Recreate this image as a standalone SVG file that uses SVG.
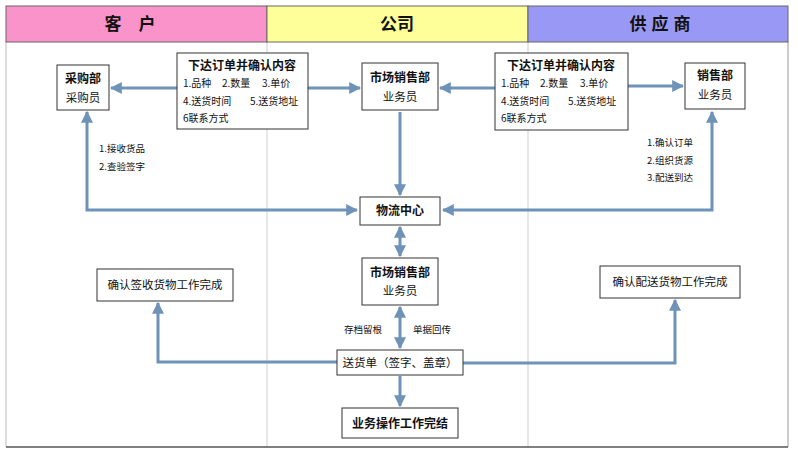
<svg xmlns="http://www.w3.org/2000/svg" width="798" height="454" viewBox="0 0 798 454">
<style>
text{font-family:"Noto Sans CJK SC","Noto Sans CJK JP",sans-serif;fill:#111}
.hd{font-size:17px;font-weight:bold;text-anchor:middle}
.b{fill:#fff;stroke:#333;stroke-width:1}
.t{font-size:12px;font-weight:bold;text-anchor:middle}
.n{font-size:11.5px;text-anchor:middle}
.s{font-size:10px}
.sm{font-size:9.5px}
.c{fill:none;stroke:#6f93b8;stroke-width:3}
.lane{stroke:#cfcfcf;stroke-width:1}
</style>
<defs>
<marker id="a" viewBox="0 0 10 10" refX="9" refY="5" markerWidth="4" markerHeight="4" orient="auto-start-reverse" markerUnits="strokeWidth">
<path d="M0,0 L10,5 L0,10 z" fill="#6f93b8"/>
</marker>
</defs>
<rect x="0" y="0" width="798" height="454" fill="#fff"/>
<g id="lanes">
<line class="lane" x1="267" y1="42" x2="267" y2="447"/>
<line class="lane" x1="528" y1="42" x2="528" y2="447"/>
<line x1="6" y1="42" x2="6" y2="447" stroke="#bbb"/>
<line x1="788" y1="42" x2="788" y2="447" stroke="#999"/>
<line x1="6" y1="447" x2="788" y2="447" stroke="#555" stroke-width="1.5"/>
</g>
<g id="header">
<rect x="6" y="6" width="261" height="36" fill="#fb93cb" stroke="#666"/>
<rect x="267" y="6" width="261" height="36" fill="#ffff99" stroke="#666"/>
<rect x="528" y="6" width="260" height="36" fill="#9999f5" stroke="#666"/>
<text class="hd" x="130" y="30">客<tspan dx="17">户</tspan></text>
<text class="hd" x="397" y="30">公司</text>
<text class="hd" x="660" y="30">供<tspan dx="5">应</tspan><tspan dx="5">商</tspan></text>
</g>
<g id="connectors">
<line class="c" x1="177" y1="88" x2="111" y2="88" marker-end="url(#a)"/>
<line class="c" x1="308" y1="88" x2="360" y2="88" marker-end="url(#a)"/>
<line class="c" x1="495" y1="88" x2="440" y2="88" marker-end="url(#a)"/>
<line class="c" x1="628" y1="86" x2="683" y2="86" marker-end="url(#a)"/>
<line class="c" x1="400" y1="112" x2="400" y2="195" marker-end="url(#a)"/>
<polyline class="c" points="87,112 87,210 357,210" marker-start="url(#a)" marker-end="url(#a)"/>
<polyline class="c" points="712,112 712,210 443,210" marker-start="url(#a)" marker-end="url(#a)"/>
<line class="c" x1="400" y1="227" x2="400" y2="256" marker-start="url(#a)" marker-end="url(#a)"/>
<line class="c" x1="400" y1="307" x2="400" y2="348" marker-start="url(#a)" marker-end="url(#a)"/>
<line class="c" x1="400" y1="376" x2="400" y2="406" marker-end="url(#a)"/>
<polyline class="c" points="337,362 158,362 158,303" marker-end="url(#a)"/>
<polyline class="c" points="463,363 675,363 675,300" marker-end="url(#a)"/>
</g>
<g id="caigou">
<rect class="b" x="57" y="65" width="52" height="45"/>
<text class="t" x="83" y="83">采购部</text>
<text class="n" x="83" y="102">采购员</text>
</g>
<g id="order1">
<rect class="b" x="177" y="53" width="131" height="76"/>
<text class="t" x="242" y="70">下达订单并确认内容</text>
<text class="s" x="183" y="87">1.品种<tspan x="222">2.数量</tspan><tspan x="262">3.单价</tspan></text>
<text class="s" x="183" y="105">4.送货时间<tspan x="250">5.送货地址</tspan></text>
<text class="s" x="183" y="122">6联系方式</text>
</g>
<g id="market1">
<rect class="b" x="362" y="63" width="76" height="47"/>
<text class="t" x="400" y="82">市场销售部</text>
<text class="n" x="400" y="101">业务员</text>
</g>
<g id="order2">
<rect class="b" x="495" y="53" width="133" height="77"/>
<text class="t" x="561" y="70">下达订单并确认内容</text>
<text class="s" x="501" y="87">1.品种<tspan x="540">2.数量</tspan><tspan x="580">3.单价</tspan></text>
<text class="s" x="501" y="105">4.送货时间<tspan x="568">5.送货地址</tspan></text>
<text class="s" x="501" y="122">6联系方式</text>
</g>
<g id="sales">
<rect class="b" x="685" y="63" width="60" height="46"/>
<text class="t" x="715" y="80">销售部</text>
<text class="n" x="715" y="99">业务员</text>
</g>
<g id="notes">
<text class="sm" x="99" y="152">1.接收货品</text>
<text class="sm" x="99" y="170">2.查验签字</text>
<text class="sm" x="647" y="146">1.确认订单</text>
<text class="sm" x="647" y="164">2.组织货源</text>
<text class="sm" x="647" y="181">3.配送到达</text>
<text class="sm" x="344" y="333">存档留根</text>
<text class="sm" x="413" y="333">单据回传</text>
</g>
<g id="logistics">
<rect class="b" x="360" y="197" width="80" height="28"/>
<text class="t" x="400" y="215">物流中心</text>
</g>
<g id="market2">
<rect class="b" x="362" y="258" width="76" height="47"/>
<text class="t" x="400" y="277">市场销售部</text>
<text class="n" x="400" y="295">业务员</text>
</g>
<g id="confirm1">
<rect class="b" x="97" y="269" width="136" height="32"/>
<text class="n" x="165" y="289">确认签收货物工作完成</text>
</g>
<g id="confirm2">
<rect class="b" x="600" y="266" width="140" height="32"/>
<text class="n" x="670" y="286">确认配送货物工作完成</text>
</g>
<g id="delivery">
<rect class="b" x="337" y="350" width="126" height="25"/>
<text class="n" x="400" y="367">送货单（签字、盖章）</text>
</g>
<g id="finish">
<rect class="b" x="342" y="408" width="116" height="30"/>
<text class="t" x="400" y="428">业务操作工作完结</text>
</g>
</svg>
